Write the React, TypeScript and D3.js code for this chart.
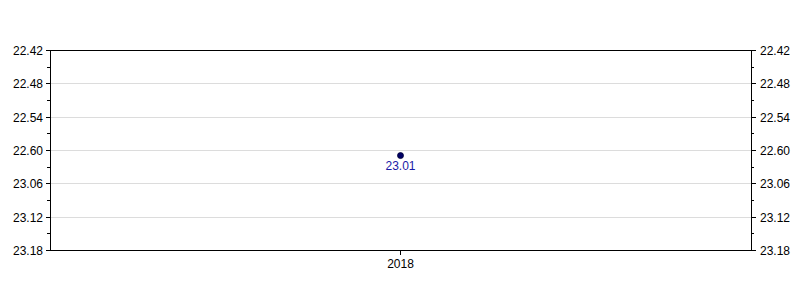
import React from "react";
import * as d3 from "d3";

const categories = ["2018"];
const values = [1381]; // seconds: 23:01
const valueLabels = ["23.01"];
const tickValues = [1362, 1368, 1374, 1380, 1386, 1392, 1398];
const tickLabels = ["22.42", "22.48", "22.54", "22.60", "23.06", "23.12", "23.18"];
const minorTicks = [1365, 1371, 1377, 1383, 1389, 1395];

export default function App() {
  const W = 800, H = 300;
  const left = 50, right = 751, top = 50, bottom = 250;
  const x = d3.scalePoint<string>().domain(categories).range([left, right]).padding(0.5);
  const y = d3.scaleLinear().domain([1362, 1398]).range([top, bottom]);
  const font = "Liberation Sans, Arial, sans-serif";
  return (
    <svg width={W} height={H} style={{ position: "absolute", left: 0, top: 0 }} fontFamily={font}>
      <rect x={0} y={0} width={W} height={H} fill="#fff" />
      {tickValues.slice(1, -1).map((t) => (
        <line key={"g" + t} x1={left} x2={right} y1={Math.round(y(t)) + 0.5} y2={Math.round(y(t)) + 0.5} stroke="#dcdcdc" />
      ))}
      <line x1={left} x2={right} y1={top + 0.5} y2={top + 0.5} stroke="#000" />
      <line x1={left} x2={right} y1={bottom + 0.5} y2={bottom + 0.5} stroke="#000" />
      <line x1={left + 0.5} x2={left + 0.5} y1={top} y2={bottom + 1} stroke="#000" />
      <line x1={right + 0.5} x2={right + 0.5} y1={top} y2={bottom + 1} stroke="#000" />
      {tickValues.map((t, i) => {
        const yy = Math.round(y(t)) + 0.5;
        return (
          <g key={"t" + t}>
            <line x1={left - 4} x2={left} y1={yy} y2={yy} stroke="#000" />
            <line x1={right} x2={right + 5} y1={yy} y2={yy} stroke="#000" />
            <text x={43} y={yy + 4.5} textAnchor="end" fontSize={12} fill="#000">{tickLabels[i]}</text>
            <text x={760} y={yy + 4.5} textAnchor="start" fontSize={12} fill="#000">{tickLabels[i]}</text>
          </g>
        );
      })}
      {minorTicks.map((t) => {
        const yy = Math.round(y(t)) + 0.5;
        return (
          <g key={"m" + t}>
            <line x1={left - 3} x2={left} y1={yy} y2={yy} stroke="#000" />
            <line x1={right} x2={right + 3} y1={yy} y2={yy} stroke="#000" />
          </g>
        );
      })}
      {categories.map((c, i) => {
        const xx = Math.floor(x(c)!) + 0.5;
        return (
          <g key={c}>
            <line x1={xx} x2={xx} y1={bottom} y2={bottom + 5} stroke="#000" />
            <text x={xx} y={bottom + 18} textAnchor="middle" fontSize={12} fill="#000">{c}</text>
            <circle cx={xx} cy={y(values[i])} r={3} fill="#000066" stroke="#000033" strokeWidth={0.8} />
            <text x={xx} y={y(values[i]) + 14} textAnchor="middle" fontSize={12} fill="#1a1aa6">{valueLabels[i]}</text>
          </g>
        );
      })}
    </svg>
  );
}
